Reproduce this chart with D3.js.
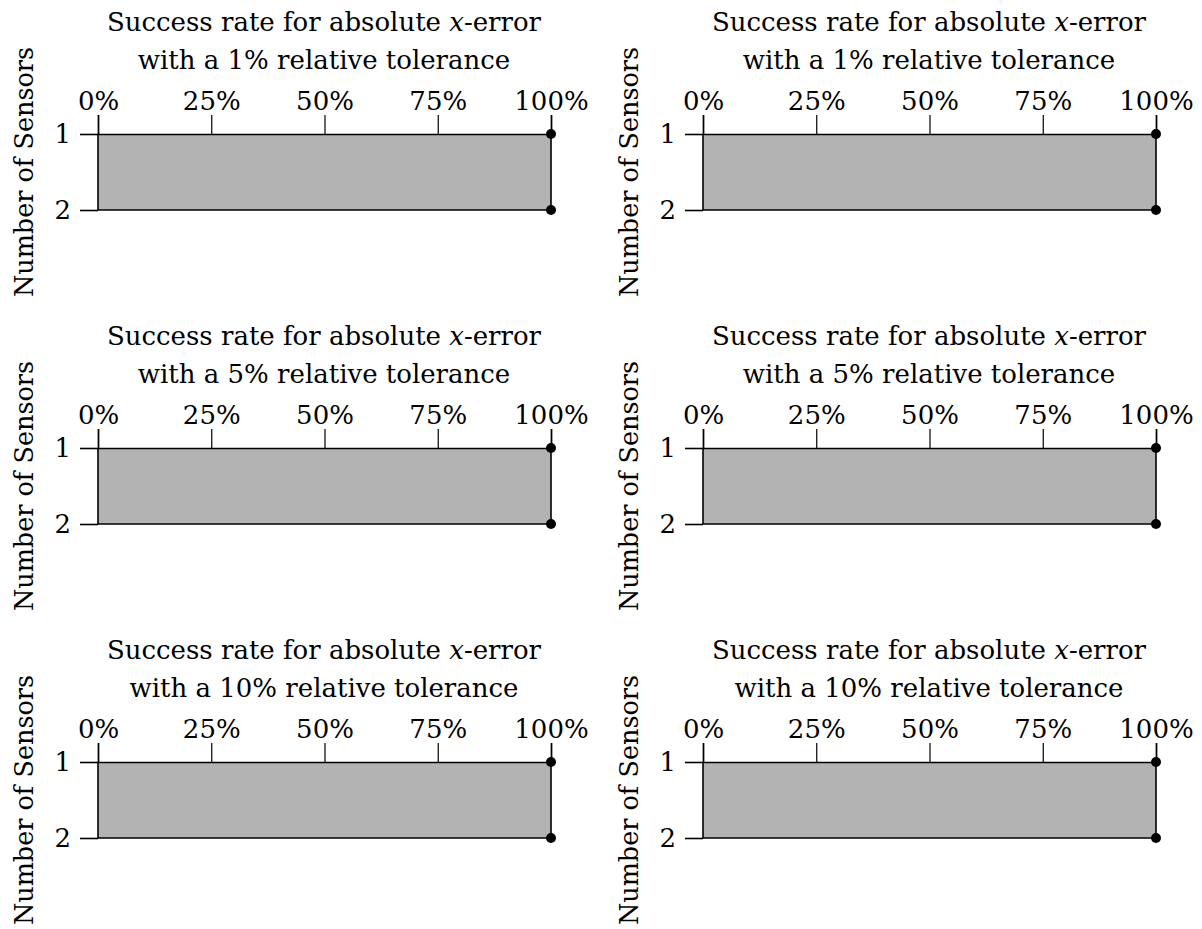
<!DOCTYPE html>
<html>
<head>
<meta charset="utf-8">
<script src="https://cdn.jsdelivr.net/npm/d3@7"></script>
<style>
  body { margin: 0; background: #fff; }
  svg text { font-family: "DejaVu Serif", serif; fill: #000; }
</style>
</head>
<body>
<div id="chart"></div>
<script>
var tolerances = ["1%", "5%", "10%"]
var sensors = [1, 2]
var xTicks = [0, 25, 50, 75, 100]
// success rate (%) per sensor count, one pair per panel (row = tolerance, col = left/right)
var successLeft = [[100, 100], [100, 100], [100, 100]]
var successRight = [[100, 100], [100, 100], [100, 100]]

var width = 1202, height = 929
var colOffset = 605, rowOffset = 314
var fontSize = 26
var serif = "'DejaVu Serif', serif"

var svg = d3.select("#chart").append("svg")
  .attr("width", width)
  .attr("height", height)

var x = d3.scaleLinear().domain([0, 100]).range([98, 551])
var y = d3.scalePoint().domain(sensors).range([134, 210])

function drawPanel(g, tol, values) {

  var data = sensors.map((s, i) => ({ sensors: s, rate: values[i] }))

  g.append("text")
    .attr("x", 324).attr("y", 31)
    .attr("text-anchor", "middle")
    .style("font-size", fontSize + "px")
    .style("font-family", serif)
    .call(t => {
      t.append("tspan").text("Success rate for absolute ")
      t.append("tspan").style("font-style", "italic").text("x")
      t.append("tspan").text("-error")
    })

  g.append("text")
    .attr("x", 324).attr("y", 69)
    .attr("text-anchor", "middle")
    .style("font-size", fontSize + "px")
    .style("font-family", serif)
    .text("with a " + tol + " relative tolerance")

  // filled area between 0% and the success rate
  var area = d3.area()
    .x0(x(0))
    .x1(d => x(d.rate))
    .y(d => y(d.sensors))

  g.append("path")
    .datum(data)
    .attr("d", area)
    .attr("fill", "#b3b3b3")
    .attr("stroke", "none")

  g.append("path")
    .datum(data)
    .attr("d", d3.line().x(d => x(d.rate)).y(d => y(d.sensors)))
    .attr("fill", "none")
    .attr("stroke", "#000")
    .attr("stroke-width", 1.6)

  // top axis
  var xAxis = d3.axisTop(x)
    .tickValues(xTicks)
    .tickFormat(d => d + "%")
    .tickSize(19)
    .tickPadding(5)

  var gx = g.append("g")
    .attr("transform", "translate(0," + y(1) + ")")
    .call(xAxis)
  gx.attr("font-family", null).attr("font-size", null)
  gx.select(".domain").attr("stroke-width", 1.6)
  gx.selectAll(".tick line").attr("stroke-width", 1.2)
  gx.selectAll(".tick text")
    .style("font-size", fontSize + "px")
    .style("font-family", serif)

  // left axis
  var yAxis = d3.axisLeft(y)
    .tickSize(18)
    .tickPadding(9)

  var gy = g.append("g")
    .attr("transform", "translate(" + x(0) + ",0)")
    .call(yAxis)
  gy.attr("font-family", null).attr("font-size", null)
  gy.select(".domain").attr("stroke-width", 1.6).attr("d", "M0," + y(1) + "V" + y(2))
  gy.selectAll(".tick line").attr("stroke-width", 1.6)
  gy.selectAll(".tick text")
    .style("font-size", fontSize + "px")
    .style("font-family", serif)

  // bottom boundary
  g.append("line")
    .attr("x1", x(0)).attr("x2", x(100))
    .attr("y1", y(2)).attr("y2", y(2))
    .attr("stroke", "#000")
    .attr("stroke-width", 1.6)

  g.selectAll("circle.pt")
    .data(data)
    .enter().append("circle")
    .attr("class", "pt")
    .attr("cx", d => x(d.rate))
    .attr("cy", d => y(d.sensors))
    .attr("r", 5)
    .attr("fill", "#000")

  g.append("text")
    .attr("transform", "translate(33,172) rotate(-90)")
    .attr("text-anchor", "middle")
    .style("font-size", "25.5px")
    .style("font-family", serif)
    .text("Number of Sensors")
}

tolerances.forEach((tol, row) => {
  drawPanel(svg.append("g").attr("transform", "translate(0," + row * rowOffset + ")"), tol, successLeft[row])
  drawPanel(svg.append("g").attr("transform", "translate(" + colOffset + "," + row * rowOffset + ")"), tol, successRight[row])
})
</script>
</body>
</html>
